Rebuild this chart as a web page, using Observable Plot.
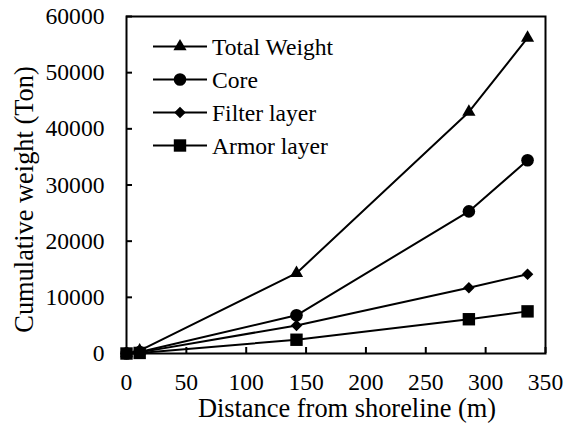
<!DOCTYPE html>
<html><head><meta charset="utf-8">
<script src="https://cdn.jsdelivr.net/npm/d3@7"></script>
<script src="https://cdn.jsdelivr.net/npm/@observablehq/plot@0.6"></script>
<style>
body{margin:0;background:#fff;}
#chart{position:relative;width:565px;height:425px;}
#chart svg, #chart svg text{font-family:'Liberation Serif','Times New Roman',Tinos,'DejaVu Serif',serif !important;}
</style></head>
<body><div id="chart"></div>
<script>
const distance = [0, 11, 142, 286, 335];
const seriesNames = ["Total Weight", "Core", "Filter layer", "Armor layer"];
const totalWeight = [0, 500, 14300, 43000, 56200];
const core = [0, 250, 6800, 25300, 34400];
const filterLayer = [0, 200, 5000, 11700, 14100];
const armorLayer = [0, 100, 2450, 6100, 7500];
const xTicks = [0, 50, 100, 150, 200, 250, 300, 350];
const yTicks = [0, 10000, 20000, 30000, 40000, 50000, 60000];
const xLabel = "Distance from shoreline (m)";
const yLabel = "Cumulative weight (Ton)";
const symbols = ["triangle", "circle", "diamond2", "square"];
const radii = [4.9, 6.3, 5.2, 7];

const valuesBySeries = [totalWeight, core, filterLayer, armorLayer];
const rows = [];
seriesNames.forEach((s, i) => distance.forEach((d, j) => rows.push({series: s, x: d, y: valuesBySeries[i][j]})));

const W = 565, H = 425, FS = 23.6, TFS = 26.4;
const FONT = "'Liberation Serif','Times New Roman',Tinos,'DejaVu Serif',serif";
const chart = Plot.plot({
  width: W, height: H,
  marginLeft: 126, marginRight: 20, marginTop: 16, marginBottom: 72,
  style: {fontFamily: FONT, fontSize: FS + "px", color: "#000", background: "#fff"},
  x: {domain: [0, 350], ticks: xTicks},
  y: {domain: [0, 60000], ticks: yTicks},
  marks: [
    Plot.frame({stroke: "#000", strokeWidth: 2}),
    Plot.axisX({ticks: xTicks, tickSize: -6, strokeWidth: 2, text: null, label: null}),
    Plot.axisX({ticks: xTicks, tickSize: 0, tickPadding: 20, tickFormat: d => String(d), fontSize: FS, fontFamily: FONT, label: null}),
    Plot.axisY({ticks: yTicks, tickSize: -6, strokeWidth: 2, text: null, label: null}),
    Plot.axisY({ticks: yTicks, tickSize: 0, tickPadding: 22, tickFormat: d => String(d), fontSize: FS, fontFamily: FONT, label: null}),
    Plot.text([xLabel], {text: d => d, frameAnchor: "bottom", textAnchor: "middle", lineAnchor: "middle", dx: 11, dy: 55, fontSize: TFS, fontFamily: FONT, fill: "#000"}),
    Plot.text([yLabel], {text: d => d, frameAnchor: "left", textAnchor: "middle", lineAnchor: "middle", rotate: -90, dx: -101.5, dy: 14.5, fontSize: TFS, fontFamily: FONT, fill: "#000"}),
    ...seriesNames.map((s) => Plot.line(rows.filter(d => d.series === s), {x: "x", y: "y", stroke: "#000", strokeWidth: 2})),
    ...seriesNames.map((s, i) => Plot.dot(rows.filter(d => d.series === s), {x: "x", y: "y", symbol: symbols[i], r: radii[i], fill: "#000", stroke: "none"}))
  ]
});
document.getElementById("chart").appendChild(chart);

// legend inside the frame (layout positions in pixels)
const svg = d3.select(chart);
const lg = svg.append("g");
const legendX0 = 153, legendX1 = 207, legendTop = 46.5, legendStep = 33;
const symMap = {triangle: d3.symbolTriangle, circle: d3.symbolCircle, diamond2: d3.symbolDiamond2, square: d3.symbolSquare};
seriesNames.forEach((s, i) => {
  const y = legendTop + i * legendStep;
  lg.append("line").attr("x1", legendX0).attr("x2", legendX1).attr("y1", y).attr("y2", y).attr("stroke", "#000").attr("stroke-width", 2);
  lg.append("path").attr("d", d3.symbol(symMap[symbols[i]], Math.PI * radii[i] * radii[i])()).attr("transform", `translate(${(legendX0 + legendX1) / 2},${y})`).attr("fill", "#000");
  lg.append("text").attr("x", legendX1 + 5).attr("y", y).attr("dy", "0.35em").attr("text-anchor", "start").attr("font-size", FS).attr("font-family", FONT).attr("fill", "#000").text(s);
});
</script></body></html>
